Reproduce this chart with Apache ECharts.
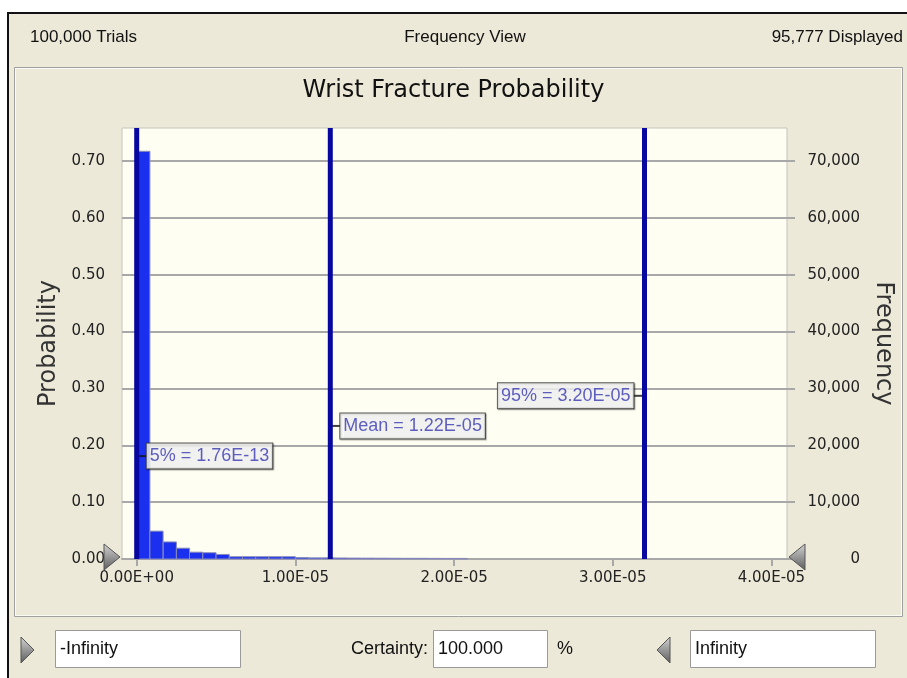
<!DOCTYPE html>
<html>
<head>
<meta charset="utf-8">
<script src="https://cdn.jsdelivr.net/npm/echarts@6/dist/echarts.min.js"></script>
<style>
html,body{margin:0;padding:0;background:#fff;}
#chart{width:907px;height:678px;}
</style>
</head>
<body>
<div id="chart"></div>
<script>
// ---- data ----
const chartTitle = 'Wrist Fracture Probability';
const headerLeft = '100,000 Trials';
const headerCenter = 'Frequency View';
const headerRight = '95,777 Displayed';
const binWidthE5 = 1 / 12; // bin width in units of 1E-05
const binStartE5 = [0.000, 0.083, 0.167, 0.250, 0.333, 0.417, 0.500, 0.583, 0.667, 0.750, 0.833, 0.917,
  1.000, 1.083, 1.167, 1.250, 1.333, 1.417, 1.500, 1.583, 1.667, 1.750, 1.833, 1.917, 2.000];
const probability = [0.717, 0.049, 0.030, 0.019, 0.012, 0.011, 0.008, 0.004, 0.004, 0.004, 0.004, 0.004,
  0.0025, 0.002, 0.002, 0.0018, 0.0016, 0.0015, 0.0014, 0.0013, 0.0012, 0.0012, 0.0011, 0.001, 0.001];
const xTickValues = [0, 1e-5, 2e-5, 3e-5, 4e-5];
const probTicks = [0, 0.1, 0.2, 0.3, 0.4, 0.5, 0.6, 0.7];
const freqTicks = [0, 10000, 20000, 30000, 40000, 50000, 60000, 70000];
const trialsTotal = 100000;
const probMax = 0.758;
const markerNames = ['5%', 'Mean', '95%'];
const markerValues = [1.76e-13, 1.22e-5, 3.20e-5];
const markerLabelY = [0.181, 0.234, 0.287];
const markerSide = ['right', 'right', 'left'];
const certaintyText = '100.000';
const lowerText = '-Infinity';
const upperText = 'Infinity';

// ---- helpers ----
function fmtE(v) {
  const s = Number(v).toExponential(2);
  const parts = s.split('e');
  const sign = parts[1][0] === '-' ? '-' : '+';
  let ex = parts[1].replace(/^[+-]/, '');
  if (ex.length < 2) ex = '0' + ex;
  return parts[0] + 'E' + sign + ex;
}
function fmtComma(v) {
  return Math.round(v).toString().replace(/\B(?=(\d{3})+(?!\d))/g, ',');
}

const bars = binStartE5.map((s, i) => [s * 1e-5, (s + binWidthE5) * 1e-5, probability[i]]);
const markerPts = markerValues.map((v, i) => ({
  value: [v, markerLabelY[i]],
  symbolOffset: [markerSide[i] === 'right' ? 5 : -6, 0],
  label: {position: markerSide[i]}
}));
const markerLines = markerValues.map(v => [v, 0, probMax]);

const chartFont = 'DejaVu Sans';
const labelFont = '"Liberation Sans", Arial, sans-serif';

const handleFill = () => new echarts.graphic.LinearGradient(0, 0, 0, 1, [{offset: 0, color: '#d4d4d4'}, {offset: 1, color: '#5c5c5c'}]);

const chart = echarts.init(document.getElementById('chart'));
chart.setOption({
  animation: false,
  backgroundColor: '#ffffff',
  title: {
    text: chartTitle, left: 'center', top: 74,
    textStyle: {fontFamily: chartFont, fontSize: 24, fontWeight: 'normal', color: '#111'}
  },
  grid: {
    left: 122, top: 128, width: 665, height: 431,
    show: true, backgroundColor: '#fefef2', borderColor: '#c4c4bc', borderWidth: 1
  },
  xAxis: {
    type: 'value', min: -0.0926e-5, max: 4.098e-5,
    axisLine: {show: true, lineStyle: {color: '#a8a8a8', width: 2}},
    axisTick: {show: true, customValues: xTickValues, length: 7, lineStyle: {color: '#a8a8a8', width: 2}},
    axisLabel: {customValues: xTickValues, formatter: fmtE, fontFamily: chartFont, fontSize: 15, color: '#222', margin: 12},
    splitLine: {show: false}
  },
  yAxis: [{
    type: 'value', min: 0, max: probMax, position: 'left', interval: 0.1,
    name: 'Probability', nameLocation: 'middle', nameGap: 56,
    nameTextStyle: {fontFamily: chartFont, fontSize: 24, color: '#333'},
    axisLine: {show: true, lineStyle: {color: '#c4c4bc'}},
    axisTick: {show: true, customValues: probTicks, length: 9, lineStyle: {color: '#a8a8a8', width: 2}},
    axisLabel: {customValues: probTicks, formatter: v => v.toFixed(2), fontFamily: chartFont, fontSize: 15, color: '#222', margin: 17},
    splitLine: {show: true, lineStyle: {color: '#a8a8a8', width: 2}}
  }, {
    type: 'value', min: 0, max: probMax * trialsTotal, position: 'right',
    name: 'Frequency', nameLocation: 'middle', nameGap: 69, nameRotate: -90,
    nameTextStyle: {fontFamily: chartFont, fontSize: 24, color: '#333'},
    axisLine: {show: false},
    axisTick: {show: true, customValues: freqTicks, length: 8, lineStyle: {color: '#a8a8a8', width: 2}},
    axisLabel: {customValues: freqTicks, formatter: fmtComma, fontFamily: chartFont, fontSize: 15, color: '#222', margin: 73, align: 'right'},
    splitLine: {show: false}
  }],
  series: [{
    type: 'custom', z: 2,
    encode: {x: [0, 1], y: 2},
    data: bars,
    renderItem(params, api) {
      const p0 = api.coord([api.value(0), api.value(2)]);
      const p1 = api.coord([api.value(1), 0]);
      return {
        type: 'rect',
        shape: {x: p0[0], y: p0[1], width: p1[0] - p0[0], height: p1[1] - p0[1]},
        style: {fill: '#1a30ee', stroke: '#8a8cb8', lineWidth: 1}
      };
    }
  }, {
    type: 'scatter', z: 3,
    data: markerPts,
    symbol: 'rect', symbolSize: [10, 2],
    itemStyle: {color: '#111'},
    label: {
      show: true, distance: 0,
      formatter: p => markerNames[p.dataIndex] + ' = ' + fmtE(markerValues[p.dataIndex]),
      backgroundColor: '#ffffff', borderColor: '#333', borderWidth: 1,
      padding: [2, 3, 2, 3], lineHeight: 21,
      fontFamily: labelFont, fontSize: 18, color: '#3838b4',
      shadowColor: 'rgba(0,0,0,0.35)', shadowOffsetX: 1, shadowOffsetY: 1, shadowBlur: 1
    }
  }, {
    type: 'custom', z: 4,
    encode: {x: 0, y: [1, 2]},
    data: markerLines,
    renderItem(params, api) {
      const a = api.coord([api.value(0), api.value(1)]);
      const b = api.coord([api.value(0), api.value(2)]);
      return {
        type: 'line',
        shape: {x1: a[0], y1: a[1], x2: b[0], y2: b[1]},
        style: {stroke: '#0808a0', lineWidth: 5}
      };
    }
  }],
  graphic: [
    // window chrome
    {type: 'rect', z: -10, shape: {x: 8, y: 13, width: 910, height: 680}, style: {fill: '#ece9d8', stroke: '#111', lineWidth: 2}},
    {type: 'rect', z: -9, shape: {x: 14.5, y: 67.5, width: 888, height: 549}, style: {fill: 'none', stroke: '#a0a0a0', lineWidth: 1}},
    {type: 'rect', z: -9, shape: {x: 15.5, y: 68.5, width: 886, height: 547}, style: {fill: 'none', stroke: '#fbfbf6', lineWidth: 1}},
    {type: 'text', z: 10, style: {x: 30, y: 37, text: headerLeft, font: '17px "Liberation Sans", sans-serif', fill: '#111', textVerticalAlign: 'middle'}},
    {type: 'text', z: 10, style: {x: 465, y: 37, text: headerCenter, font: '17px "Liberation Sans", sans-serif', fill: '#111', textAlign: 'center', textVerticalAlign: 'middle'}},
    {type: 'text', z: 10, style: {x: 903, y: 37, text: headerRight, font: '17px "Liberation Sans", sans-serif', fill: '#111', textAlign: 'right', textVerticalAlign: 'middle'}},
    // slider handles on axis
    {type: 'polygon', z: 10, shape: {points: [[104, 544], [120, 557], [104, 570]]}, style: {fill: handleFill(), stroke: '#555', lineWidth: 1}},
    {type: 'polygon', z: 10, shape: {points: [[805, 544], [789, 557], [805, 570]]}, style: {fill: handleFill(), stroke: '#555', lineWidth: 1}},
    // bottom controls
    {type: 'polygon', z: 10, shape: {points: [[21, 637], [34, 650], [21, 663]]}, style: {fill: handleFill(), stroke: '#555', lineWidth: 1}},
    {type: 'rect', z: 10, shape: {x: 55.5, y: 630.5, width: 185, height: 37}, style: {fill: '#fff', stroke: '#9a9a9a', lineWidth: 1}},
    {type: 'text', z: 11, style: {x: 60, y: 649, text: lowerText, font: '18px "Liberation Sans", sans-serif', fill: '#111', textVerticalAlign: 'middle'}},
    {type: 'text', z: 11, style: {x: 428, y: 649, text: 'Certainty:', font: '18px "Liberation Sans", sans-serif', fill: '#111', textAlign: 'right', textVerticalAlign: 'middle'}},
    {type: 'rect', z: 10, shape: {x: 433.5, y: 630.5, width: 114, height: 37}, style: {fill: '#fff', stroke: '#9a9a9a', lineWidth: 1}},
    {type: 'text', z: 11, style: {x: 438, y: 649, text: certaintyText, font: '18px "Liberation Sans", sans-serif', fill: '#111', textVerticalAlign: 'middle'}},
    {type: 'text', z: 11, style: {x: 557, y: 649, text: '%', font: '18px "Liberation Sans", sans-serif', fill: '#111', textVerticalAlign: 'middle'}},
    {type: 'polygon', z: 10, shape: {points: [[670, 637], [657, 650], [670, 663]]}, style: {fill: handleFill(), stroke: '#555', lineWidth: 1}},
    {type: 'rect', z: 10, shape: {x: 690.5, y: 630.5, width: 185, height: 37}, style: {fill: '#fff', stroke: '#9a9a9a', lineWidth: 1}},
    {type: 'text', z: 11, style: {x: 695, y: 649, text: upperText, font: '18px "Liberation Sans", sans-serif', fill: '#111', textVerticalAlign: 'middle'}}
  ]
});
</script>
</body>
</html>
